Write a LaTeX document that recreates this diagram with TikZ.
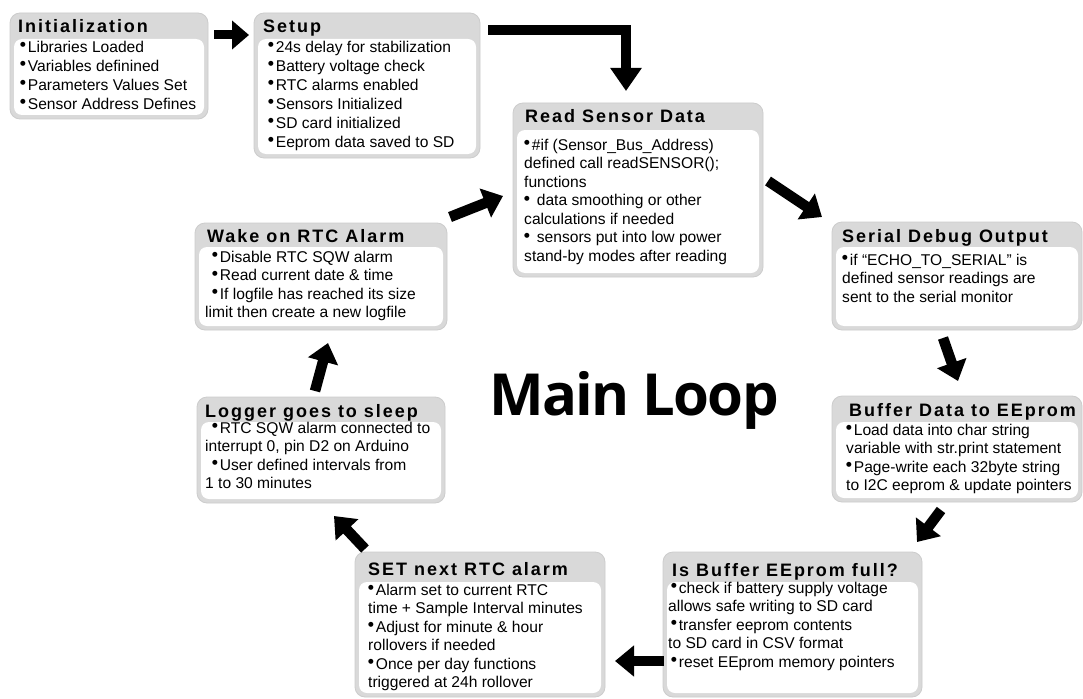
\documentclass[tikz,border=0pt]{standalone}
\usepackage{fontspec}
\setmainfont{Liberation Sans}
\newfontfamily\titlefont[LetterSpace=11]{Liberation Sans}
\newfontfamily\bigfont[LetterSpace=-3]{Open Sans}
\newfontfamily\dejavu{DejaVu Sans}
\usetikzlibrary{arrows.meta}
\definecolor{boxgray}{RGB}{217,217,217}
\definecolor{boxedge}{RGB}{204,204,204}
\newcommand\bu{\raisebox{5.5pt}{\fontsize{6.5}{6.5}\selectfont\dejavu ●}\hspace{2pt}}
\newcommand\fl{\rule{0pt}{11.5pt}}
\newcommand\flowbox[6]{%
  \node[outerbox, minimum width={(#4-#2)*1pt}, minimum height={(#5-#3)*1pt}] (#1) at ({(#2+#4)/2},{(#3+#5)/2}) {};
  \fill[innerfill] ({#2+4},{#6}) rectangle ({#4-4},{#5-4});
}
\begin{document}
\begin{tikzpicture}[x=1pt,y=-1pt,
  outerbox/.style={rectangle, rounded corners=10pt, fill=boxgray, draw=boxedge, line width=0.8pt, inner sep=0pt},
  innerfill/.style={fill=white, rounded corners=8pt},
  boxtitle/.style={anchor=base west, inner sep=0pt, font=\titlefont\bfseries\fontsize{18}{20}\selectfont},
  boxbody/.style={anchor=north west, inner sep=0pt, align=left, font=\fontsize{15.6}{18.5}\selectfont},
  bigarrow/.style={line width=10.5pt, -{Triangle[length=19pt,width=30pt]}},
]
\fill[white] (0,0) rectangle (1083,698);
\useasboundingbox (0,0) rectangle (1083,698);

% boxes
\flowbox{init}{10}{13}{208}{119}{39}
\flowbox{setup}{254}{13}{480}{158}{39}
\flowbox{read}{513}{103}{763}{277}{130}
\flowbox{serial}{832}{222}{1082}{330}{247}
\flowbox{buffer}{832}{396}{1082}{502}{422}
\flowbox{isbuf}{663}{552}{922}{697}{582}
\flowbox{setrtc}{355}{552}{605}{697}{582}
\flowbox{logger}{197}{397}{445}{503}{422}
\flowbox{wake}{195}{223}{447}{330}{247}

% titles
\node[boxtitle] (init-t) at (18,33) {Initialization};
\node[boxtitle] (setup-t) at (263,33) {Setup};
\node[boxtitle] (read-t) at (525,123) {Read Sensor Data};
\node[boxtitle] (serial-t) at (842,242) {Serial Debug Output};
\node[boxtitle] (buffer-t) at (849,416) {Buffer Data to EEprom};
\node[boxtitle] (isbuf-t) at (672,576) {Is Buffer EEprom full?};
\node[boxtitle] (setrtc-t) at (368,575) {SET next RTC alarm};
\node[boxtitle] (logger-t) at (205,417) {Logger goes to sleep};
\node[boxtitle] (wake-t) at (207,242) {Wake on RTC Alarm};

% bodies
\node[boxbody, font=\fontsize{15.6}{19}\selectfont] (init-b) at (20,40.5) {\fl\bu Libraries Loaded\\ \bu Variables definined\\ \bu Parameters Values Set\\ \bu Sensor Address Defines};
\node[boxbody, font=\fontsize{15.6}{19}\selectfont] (setup-b) at (268,40.5) {\fl\bu 24s delay for stabilization\\ \bu Battery voltage check\\ \bu RTC alarms enabled\\ \bu Sensors Initialized\\ \bu SD card initialized\\ \bu Eeprom data saved to SD};
\node[boxbody] (read-b) at (524,138.5) {\fl\bu\#if (Sensor\_Bus\_Address)\\ defined call readSENSOR();\\ functions\\ \bu\hspace{5pt}data smoothing or other\\ calculations if needed\\ \bu\hspace{5pt}sensors put into low power\\ stand-by modes after reading};
\node[boxbody] (serial-b) at (842,253.5) {\fl\bu if “ECHO\_TO\_SERIAL” is\\ defined sensor readings are\\ sent to the serial monitor};
\node[boxbody] (buffer-b) at (846,423.5) {\fl\bu Load data into char string\\ variable with str.print statement\\ \bu Page-write each 32byte string\\ to I2C eeprom \& update pointers};
\node[boxbody] (isbuf-b) at (668,581.5) {\fl\hspace{3pt}\bu check if battery supply voltage\\ allows safe writing to SD card\\ \hspace{3pt}\bu transfer eeprom contents\\ to SD card in CSV format\\ \hspace{3pt}\bu reset EEprom memory pointers};
\node[boxbody] (setrtc-b) at (368,583.5) {\fl\bu Alarm set to current RTC\\ time + Sample Interval minutes\\ \bu Adjust for minute \& hour\\ rollovers if needed\\ \bu Once per day functions\\ triggered at 24h rollover};
\node[boxbody] (logger-b) at (205,421.5) {\fl\hspace{7pt}\bu RTC SQW alarm connected to\\ interrupt 0, pin D2 on Arduino\\ \hspace{7pt}\bu User defined intervals from\\ 1 to 30 minutes};
\node[boxbody] (wake-b) at (205,250.5) {\fl\hspace{7pt}\bu Disable RTC SQW alarm\\ \hspace{7pt}\bu Read current date \& time\\ \hspace{7pt}\bu If logfile has reached its size\\ limit then create a new logfile};

% main label
\node[anchor=base, inner sep=0pt, font=\bigfont\bfseries\fontsize{58}{60}\selectfont] (main) at (634,415) {Main Loop};

% arrow end points
\coordinate (a1s) at (214,35);  \coordinate (a1e) at (249,35);
\coordinate (a2s) at (488,30);  \coordinate (a2e) at (626,91);
\coordinate (a3s) at (768,181); \coordinate (a3e) at (822,217);
\coordinate (a4s) at (943,338); \coordinate (a4e) at (958,381);
\coordinate (a5s) at (941,510); \coordinate (a5e) at (917,542);
\coordinate (a6s) at (664,661); \coordinate (a6e) at (615,661);
\coordinate (a7s) at (365,549); \coordinate (a7e) at (334,516);
\coordinate (a8s) at (315,391); \coordinate (a8e) at (328,343);
\coordinate (a9s) at (450,217); \coordinate (a9e) at (503,196);

\draw[bigarrow, line width=9pt, -{Triangle[length=17pt,width=28pt]}] (a1s) -- (a1e);
\draw[bigarrow, line width=10pt, line join=miter, -{Triangle[length=23pt,width=30pt]}] (a2s) -| (a2e);
\draw[bigarrow] (a3s) -- (a3e);
\draw[bigarrow] (a4s) -- (a4e);
\draw[bigarrow] (a5s) -- (a5e);
\draw[bigarrow] (a6s) -- (a6e);
\draw[bigarrow] (a7s) -- (a7e);
\draw[bigarrow] (a8s) -- (a8e);
\draw[bigarrow] (a9s) -- (a9e);
\end{tikzpicture}
\end{document}
